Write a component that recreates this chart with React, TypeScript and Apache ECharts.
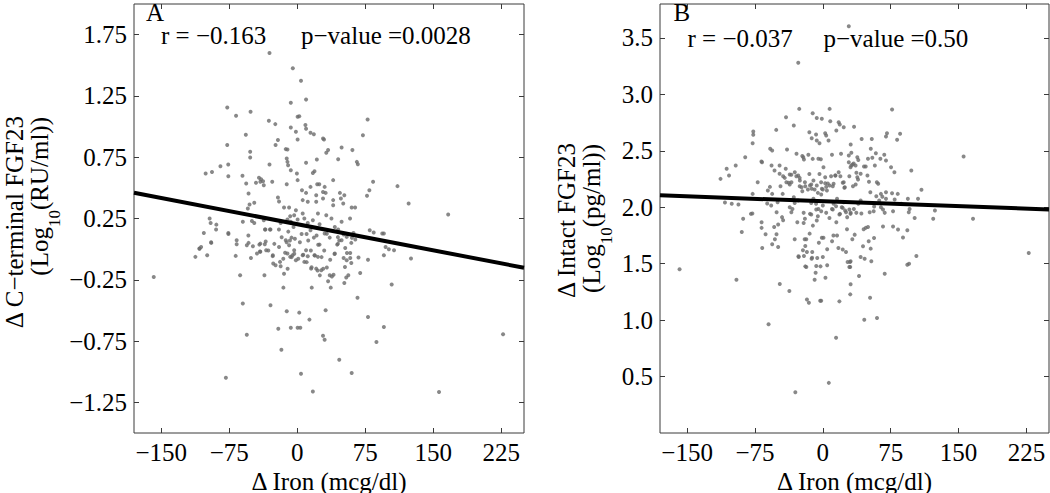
import React, { useEffect, useRef } from "react";
import * as echarts from "echarts";

// ---------- data ----------
const xTicks = [-150, -75, 0, 75, 150, 225];
const yTicksA = [-1.25, -0.75, -0.25, 0.25, 0.75, 1.25, 1.75];
const yTicksB = [0.5, 1.0, 1.5, 2.0, 2.5, 3.0, 3.5];

const statsA = { r: "r = \u22120.163", p: "p\u2212value =0.0028" };
const statsB = { r: "r = \u22120.037", p: "p\u2212value =0.50" };

// regression line end points [x, y]
const fitA: [number, number][] = [[-180, 0.46], [250, -0.152]];
const fitB: [number, number][] = [[-180, 2.105], [250, 1.98]];

// Panel A: delta iron vs delta C-terminal FGF23
const pointsA: [number, number][] = [
  [-30.6,1.60],[-4.9,1.475],[4.1,1.374],[9.7,1.22],[-7.1,1.194],[-77.2,1.156],[-51.5,1.121],[-67.5,1.088],[0.4,1.08],[2.2,1.085],
  [-31.3,1.047],[-24.2,1.02],[77.6,1.058],[-7.1,0.993],[9,1.012],[9.7,0.982],[-1.5,0.957],[14.6,0.949],[18.3,0.938],[72.4,0.93],
  [-56.7,0.933],[28.4,0.903],[29.5,0.895],[-21.3,0.89],[0.4,0.895],[-23.9,0.85],[-77.2,0.85],[-12.7,0.816],[-10.8,0.813],[48.9,0.83],
  [60.8,0.808],[34,0.808],[32,0.786],[-51.9,0.794],[-51.9,0.748],[-11.6,0.74],[-10.8,0.712],[-10.1,0.685],[9.7,0.704],[21.6,0.731],
  [45.1,0.734],[65.7,0.712],[66.8,0.693],[-30.6,0.69],[-84.7,0.677],[-76.1,0.69],[-94,0.63],[-101,0.617],[-76,0.595],[-60.4,0.598],
  [19,0.636],[17.2,0.622],[-7.1,0.644],[-0.4,0.617],[0.4,0.563],[-42.2,0.582],[-39.9,0.571],[-40.7,0.549],[-37.7,0.554],[-36.9,0.522],
  [-45.5,0.541],[-56.3,0.535],[-27.6,0.549],[-11.6,0.53],[22,0.53],[24.3,0.53],[14.6,0.508],[30.2,0.508],[39.6,0.563],[83.6,0.549],
  [110.5,0.514],[5.2,0.481],[9.7,0.459],[28.4,0.467],[20.9,0.44],[31.3,0.459],[47,0.459],[51.9,0.44],[79.5,0.481],[76.9,0.435],
  [122.8,0.372],[-53.7,0.454],[-21.3,0.421],[-20.1,0.388],[-14.6,0.34],[-9,0.34],[6,0.40],[11.6,0.386],[20.9,0.386],[28.4,0.413],
  [48.1,0.413],[50.7,0.372],[39.6,0.358],[39.6,0.40],[-47.4,0.378],[-52.6,0.364],[-54.5,0.331],[60,0.34],[63.8,0.34],[-96.6,0.25],
  [-95.5,0.214],[-89.2,0.2],[-103,0.132],[-76,0.132],[-60,0.223],[-50,0.23],[-47.4,0.214],[-36.9,0.236],[-35.1,0.16],[-29.5,0.16],
  [-18.3,0.214],[-10.8,0.241],[-7.8,0.268],[-7.1,0.223],[-4.1,0.181],[0.4,0.241],[-3.4,0.277],[-1.5,0.318],[6,0.29],[7.8,0.25],
  [11.6,0.214],[14.6,0.154],[17.2,0.236],[22.8,0.29],[24.6,0.203],[32,0.277],[37.7,0.25],[41.4,0.181],[45.1,0.16],[48.9,0.223],
  [58.2,0.25],[62,0.132],[79.9,0.154],[84.3,0.135],[93.7,0.127],[95.5,0.127],[166.4,0.282],[-107.8,0.004],[18.3,0.094],[30.2,0.127],
  [35.8,0.094],[-6.3,0.094],[-12.7,0.072],[-66.8,0.072],[-55.6,0.032],[-40.7,0.045],[48.9,0.072],[54.5,0.1],
  [-158.2,-0.227],[-112.3,-0.063],[-107.8,0.005],[-106,0.018],[-99.3,-0.05],[-94.8,0.051],[-66.8,0.04],[-67.9,-0.055],[-63,-0.213],[-60,-0.444],
  [-55.6,-0.698],[-78.7,-1.049],[-53.7,0.051],[-51.1,-0.072],[-48.9,0.024],[-44.4,-0.036],[-40.7,-0.022],[-35.8,0.04],[-36.2,-0.213],[-34.3,-0.009],
  [-29.5,-0.458],[-26.9,-0.05],[-26.5,-0.118],[-23.9,-0.132],[-20.1,0.018],[-19,-0.104],[-18.3,-0.14],[-20.9,-0.649],[-17.5,-0.82],[-14.6,-0.2],
  [-13.4,-0.03],[-11.6,-0.507],[-10.8,-0.036],[-9,0.032],[-7.8,-0.063],[-7.1,-0.641],[-15.3,-0.314],[-5.2,-0.05],[-3.4,-0.009],[-1.5,-0.09],
  [0.4,-0.641],[3.4,-0.641],[2.2,-0.518],[4.1,-1.016],[6,-0.05],[7.8,-0.104],[9.7,-0.009],[11.6,-0.058],[13.4,-0.575],[15.3,-0.159],
  [17.2,-1.161],[16,-0.314],[19,-0.05],[20.9,-0.159],[22.8,-0.063],[24.6,0.037],[26.5,-0.172],[28.4,-0.706],[30.2,-0.739],[31.3,-0.499],
  [34,-0.262],[35.8,-0.213],[36.9,-0.314],[41.4,-0.036],[44,0.037],[46.3,-0.902],[51.9,-0.276],[52.6,-0.145],[54.5,-0.09],[56.3,-0.213],
  [60,-1.011],[67.5,-0.069],[66.4,-0.396],[69.4,-0.194],[78,-0.554],[87.3,-0.758],[95.5,-0.635],[95.5,-0.05],[97.4,0.018],[101,-0.001],
  [106.7,-0.009],[104.1,-0.289],[125.4,-0.077],[156.3,-1.166],[226.9,-0.695],
  [-95,0.056],[-89.5,0.16],[-75.9,0.124],[-53.9,0.111],[-41.8,0.037],[-41.1,-0.019],[-35.6,0.16],[-30.1,0.16],[-34.8,0.062],[-31.9,-0.011],
  [-27.1,-0.057],[-25.3,0.043],[-20.2,0.16],[-17.2,0.097],[-15.4,-0.079],[-11.7,0.056],[-9.9,0.143],[-10.6,-0.16],[-8.1,0.07],[-6.2,-0.065],
  [-3.3,-0.038],[-2.6,0.084],[1.1,-0.079],[2.9,0.056],[4.8,0.124],[6.6,-0.046],[10.3,0.124],[10.3,-0.106],[12.1,0.07],[15,-0.011],
  [15.8,-0.147],[19.4,-0.052],[21.3,0.111],[22.4,-0.174],[24.9,-0.214],[26.8,-0.065],[28.6,-0.16],[23.1,0.035],[29.7,-0.011],
  [32.6,0.125],[44.8,0.098],[46.3,0.07],[44.8,0.043],[51.1,0.12],[52.9,0.01],[54.8,-0.031],[58.4,-0.031],[60.3,0.092],[64,0.079],
  [59.6,0.051],[51.1,-0.072],[58.4,-0.072],[59.6,-0.113],[54,-0.231],[36.3,-0.086],[32.6,-0.149],[40,-0.209],[38.2,-0.223],[41.1,-0.039],
  [78,-0.086]
];

// Panel B: delta iron vs delta intact FGF23
const pointsB: [number, number][] = [
  [28.7,3.603],[-27.2,3.279],[-26.1,2.871],[7.5,2.871],[76.5,2.865],[-11.2,2.833],[-1.1,2.783],[-6.7,2.791],[-40.7,2.797],[-32.1,2.724],
  [8.2,2.762],[17.5,2.753],[18.7,2.732],[23.1,2.709],[-76.9,2.67],[-76.9,2.641],[-77.6,2.567],[-51.5,2.685],[-14.9,2.664],[-7.5,2.644],
  [2.6,2.656],[3.7,2.635],[14.9,2.679],[42.9,2.605],[54.1,2.605],[70.9,2.656],[69.8,2.626],[85.4,2.65],[82.1,2.597],[-12.3,2.611],
  [-6.7,2.591],[6.3,2.591],[-3.7,2.567],[-58.2,2.517],[-56,2.502],[-39.6,2.511],[-16,2.464],[-29.1,2.473],[-85.8,2.443],[-67.9,2.405],
  [-21.6,2.443],[-11.2,2.428],[-4.9,2.43],[-2.2,2.425],[10.1,2.464],[20.1,2.473],[28.7,2.458],[38.1,2.443],[53,2.517],[58.6,2.478],
  [67.9,2.464],[39.2,2.419],[28.7,2.399],[45.5,2.36],[57.5,2.369],[69.8,2.413],[75.4,2.354],[155.6,2.449],[-106.3,2.34],[-96.3,2.369],
  [-113.1,2.251],[-103.7,2.281],[-108.2,2.042],[-100.7,2.03],[-93.3,2.024],[-88.1,1.897],[-79.5,1.941],[-77.6,2.118],[-72,2.222],[-60.8,2.148],
  [-67.2,2.399],[-56.7,2.369],[-53.4,2.325],[-56,2.118],[-57.1,2.015],[-47.8,2.369],[-47.8,2.296],[-41,2.34],[-36.6,2.289],[-40.3,2.222],
  [-34.7,2.222],[-44.4,2.118],[-50,2.044],[-51.1,1.956],[-45.1,1.912],[-36.6,2.0],[-31,2.31],[-27.2,2.281],[-25.4,2.236],[-23.5,2.177],
  [-19.8,2.222],[-14.9,2.295],[-14.2,2.192],[-12.3,2.163],[-10.4,2.236],[-6.7,2.192],[-3.7,2.295],[-1.9,2.222],[-1.1,2.163],[0.7,2.354],
  [2.6,2.266],[2.6,2.213],[4.5,2.148],[7.5,2.192],[11.9,2.207],[13.8,2.281],[17.5,2.31],[23.1,2.222],[24.3,2.177],[30.6,2.354],
  [36.2,2.369],[38.1,2.266],[41.8,2.296],[47.4,2.36],[49.3,2.281],[59.7,2.222],[61.2,2.207],[64.2,2.118],[69.8,2.133],[76.5,2.124],
  [82.8,2.118],[97.8,2.325],[79.1,2.31],[109,2.154],[105.2,2.074],[94,2.074],[95.9,1.985],[86.6,2.03],[123.9,1.97],[122,1.897],
  [166,1.897],[69.8,2.074],[62.3,2.059],[64.2,2.0],[56.7,2.006],[41.8,2.059],[39.2,2.03],[34.3,1.985],[30.6,1.941],[23.1,2.044],
  [20.9,2.0],[24.6,1.97],[19,1.941],[26.9,1.912],[15.7,2.074],[11.9,2.03],[10.1,1.985],[14.9,1.867],[-10.4,2.074],[-7.5,2.03],
  [-4.9,1.985],[-14.2,1.941],[-6.7,1.882],[-19.8,1.897],[-32.1,2.089],[-27.2,2.059],[-33.6,1.985],
  [-77.9,1.944],[-67.7,1.867],[-61.5,2.033],[-43.9,1.885],[-49.4,1.846],[-34.8,1.956],[-28.2,1.867],[-21.2,1.95],[-21.2,1.861],[-12.8,2.038],
  [-12.8,1.935],[-11,1.837],[-7.3,1.979],[-5.5,1.92],[-1.8,1.964],[0,2.015],[3.7,1.95],[7.3,1.905],[11,1.979],[14.6,2.009],
  [18.3,1.935],[22,1.994],[25.6,1.956],[29.3,1.979],[-31.1,2.038],
  [-22.7,2.453],[-20.9,2.423],[-43.9,2.275],[-42.1,2.26],[-34.8,2.287],[-29.3,2.275],[-25.6,2.26],[-58.5,2.18],[-46.8,2.186],[-37.7,2.216],
  [-36.6,2.201],[-25.6,2.186],[-22.7,2.142],[-19.4,2.186],[-16.5,2.157],[-12.8,2.201],[-9.1,2.157],[-5.5,2.127],[-1.8,2.112],[0,2.157],
  [3.7,2.18],[9.1,2.275],[13.9,2.281],[19.4,2.275],[5.5,2.21],[11,2.186],[22,2.216],[23.8,2.172],[29.3,2.275],[32.9,2.379],
  [34.5,2.713],[30.8,2.556],[31.5,2.482],[34.1,2.388],[31.5,2.37],[49.9,2.429],[54.7,2.438],[63.6,2.429],[37.1,2.305],[38.9,2.246],
  [36.3,2.201],[33.3,2.186],[51,2.225],[52.5,2.133],[59.1,2.098],[65.8,2.092],[79.4,2.068],[95,1.956],[101.5,1.905],
  [30.8,1.95],[37,1.95],[42.6,1.944],[51.8,1.956],[56.2,1.964],[66.5,1.979],[68.4,1.95],[77.6,1.964],
  [32.6,1.716],[35.2,1.757],[45.1,1.805],[47.4,1.817],[49.9,1.825],[66.5,1.83],[77.6,1.83],[83.1,1.802],[93.4,1.796],[88.6,1.731],
  [56.6,1.728],[50.7,1.698],[44.4,1.654],[52.9,1.633],[41.8,1.559],[46.2,1.544],[53.6,1.521],[30.7,1.521],[30.3,1.47],[103.4,1.568],
  [93.4,1.49],[95.3,1.5],[40,1.391],[68.4,1.411],[30.7,1.317],[30.3,1.228],[52.2,1.198],[45.8,1.003],[59.9,1.018],[227.6,1.595],
  [-67.7,1.817],[-53.8,1.825],[-63.3,1.76],[-51.2,1.76],[-53,1.716],[-56,1.672],[-49.4,1.648],[-67,1.639],[-89.6,1.781],[-31.1,1.716],
  [-20.1,1.716],[-18.3,1.716],[-14.6,1.766],[-19.4,1.657],[-22,1.618],[-17.6,1.604],[-11.7,1.604],[-26.7,1.559],[-20.9,1.568],[-12.4,1.544],
  [-6.2,1.55],[0,1.559],[-4.4,1.686],[-1.1,1.73],[0.7,1.73],[4.8,1.627],[10.2,1.698],[11.7,1.75],[15.7,1.75],[17.2,1.639],
  [22,1.625],[25.6,1.604],[26.7,1.805],[27.4,1.515],[30,1.515],[29.3,1.47],[4.8,1.485],[-2.6,1.476],[-7.3,1.479],[-19.4,1.476],
  [-18.3,1.47],[-8,1.42],[-9.1,1.358],[2.9,1.376],[18.3,1.166],[-2.9,1.172],[-1.8,1.172],[-17.6,1.183],[-15.4,1.154],[-37,1.257],
  [-47.6,1.32],[-95.5,1.358],[-158.4,1.45],[-60,0.964],[14.6,0.843],[-30.4,0.361],[6.6,0.444],[-26.9,1.565],[-11.9,1.553]
];

// ---------- styling helpers ----------
const FONT = "'Liberation Serif', 'Times New Roman', serif";
const FS = 25;
const FRAME = "#3a3a3a";
const DOT = "#6a6a6a";

const minus = (s: string) => s.replace("-", "\u2212");
const fmtX = (v: number) => minus(String(v));
const fmtYA = (v: number) => minus(v.toFixed(2));
const fmtYB = (v: number) => minus(v.toFixed(1));

const GRID_TOP = 4;
const GRID_H = 429;
const gridA = { left: 134, top: GRID_TOP, width: 390, height: GRID_H };
const gridB = { left: 660, top: GRID_TOP, width: 389, height: GRID_H };

const tickStyle = (vals: number[]) => ({
  show: true,
  inside: true,
  length: 5,
  customValues: vals,
  lineStyle: { color: FRAME, width: 1 },
});

function xAxes(gridIndex: number) {
  const base = {
    gridIndex,
    type: "value" as const,
    min: -180,
    max: 250,
    splitLine: { show: false },
    axisLine: { show: false, onZero: false },
  };
  return [
    {
      ...base,
      position: "bottom",
      axisTick: tickStyle(xTicks),
      axisLabel: { show: true, customValues: xTicks, formatter: fmtX, fontFamily: FONT, fontSize: FS, color: "#000", margin: 7 },
    },
    {
      ...base,
      position: "top",
      axisTick: tickStyle(xTicks),
      axisLabel: { show: false },
    },
  ];
}

function yAxes(gridIndex: number, min: number, max: number, ticks: number[], fmt: (v: number) => string) {
  const base = {
    gridIndex,
    type: "value" as const,
    min,
    max,
    splitLine: { show: false },
    axisLine: { show: false, onZero: false },
  };
  return [
    {
      ...base,
      position: "left",
      axisTick: tickStyle(ticks),
      axisLabel: { show: true, customValues: ticks, formatter: fmt, fontFamily: FONT, fontSize: FS, color: "#000", margin: 7 },
    },
    {
      ...base,
      position: "right",
      axisTick: tickStyle(ticks),
      axisLabel: { show: false },
    },
  ];
}

function txt(text: string, x: number, y: number, extra: any = {}) {
  return {
    type: "text",
    x,
    y,
    silent: true,
    style: { text, fontFamily: FONT, fontSize: FS, fill: "#000", align: "left", verticalAlign: "middle", ...extra },
  };
}

function vTitle(text: string, x: number, yEnd: number) {
  return {
    type: "text",
    x,
    y: yEnd,
    rotation: Math.PI / 2,
    silent: true,
    style: { text, fontFamily: FONT, fontSize: FS, fill: "#000", align: "right", verticalAlign: "middle" },
  };
}

function logTitle(unit: string, x: number, yEnd: number) {
  return {
    type: "text",
    x,
    y: yEnd,
    rotation: Math.PI / 2,
    silent: true,
    style: {
      text: `{m|(Log}{s|10}{m|(${unit}))}`,
      align: "right",
      verticalAlign: "middle",
      rich: {
        m: { fontFamily: FONT, fontSize: FS, fill: "#000", lineHeight: 48 },
        s: { fontFamily: FONT, fontSize: 17, fill: "#000", lineHeight: 17, verticalAlign: "bottom" },
      },
    },
  };
}

export default function App() {
  const ref = useRef<HTMLDivElement>(null);

  useEffect(() => {
    document.body.style.margin = "0";
    if (!ref.current) return;
    const chart = echarts.init(ref.current, undefined, { renderer: "svg" });

    const option: any = {
      animation: false,
      backgroundColor: "#fff",
      grid: [
        { ...gridA, show: true, borderColor: FRAME, borderWidth: 1, backgroundColor: "transparent" },
        { ...gridB, show: true, borderColor: FRAME, borderWidth: 1, backgroundColor: "transparent" },
      ],
      xAxis: [...xAxes(0), ...xAxes(1)],
      yAxis: [
        ...yAxes(0, -1.5, 2.0, yTicksA, fmtYA),
        ...yAxes(1, 0, 3.8, yTicksB, fmtYB),
      ],
      series: [
        { type: "scatter", xAxisIndex: 0, yAxisIndex: 0, data: pointsA, symbolSize: 4, itemStyle: { color: DOT }, z: 2 },
        { type: "line", xAxisIndex: 0, yAxisIndex: 0, data: fitA, symbol: "none", lineStyle: { color: "#000", width: 4 }, z: 3 },
        { type: "scatter", xAxisIndex: 2, yAxisIndex: 2, data: pointsB, symbolSize: 4, itemStyle: { color: DOT }, z: 2 },
        { type: "line", xAxisIndex: 2, yAxisIndex: 2, data: fitB, symbol: "none", lineStyle: { color: "#000", width: 4 }, z: 3 },
      ],
      graphic: [
        txt("A", 146, 12.6),
        txt("B", 673.5, 12.6),
        txt(statsA.r, 161, 35.5),
        txt(statsA.p, 301, 35.5),
        txt(statsB.r, 687.5, 38),
        txt(statsB.p, 823.5, 38),
        txt("\u0394 Iron (mcg/dl)", gridA.left + gridA.width / 2, 481, { align: "center" }),
        txt("\u0394 Iron (mcg/dl)", gridB.left + gridB.width / 2, 481, { align: "center" }),
        vTitle("\u0394 C\u2212terminal FGF23", 14, 116),
        logTitle("RU/ml", 39, 117),
        vTitle("\u0394 Intact FGF23", 566, 143),
        logTitle("pg/ml", 591, 144),
      ],
    };

    chart.setOption(option);
    return () => chart.dispose();
  }, []);

  return <div ref={ref} style={{ width: 1050, height: 493 }} />;
}
